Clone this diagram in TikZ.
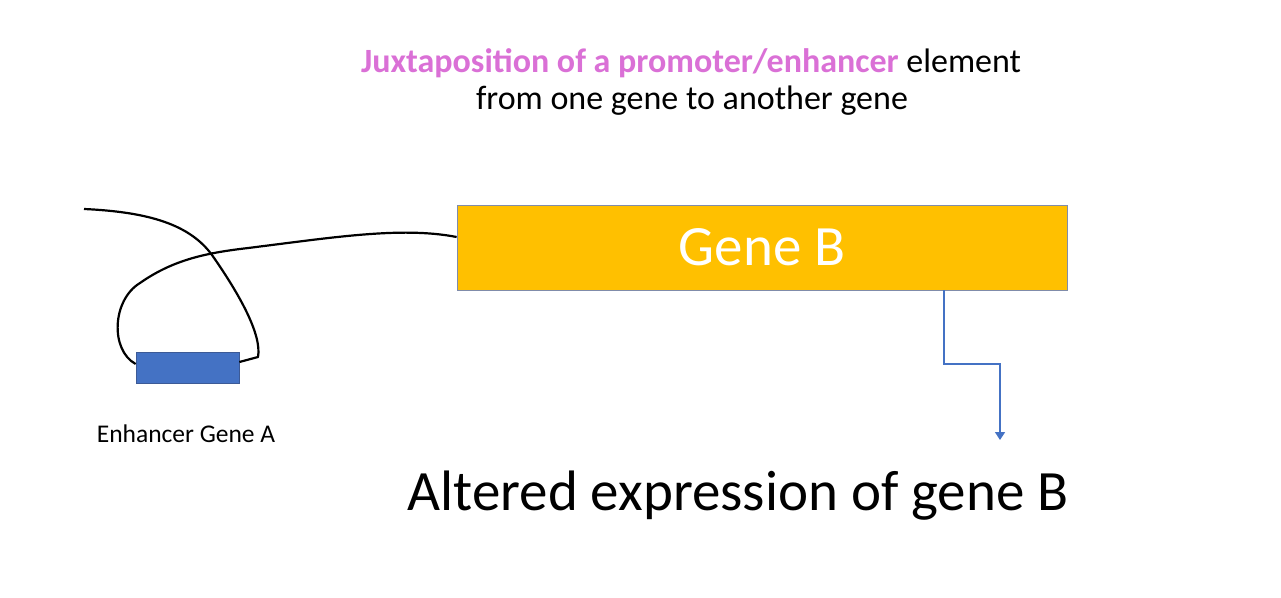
\documentclass[tikz,border=0pt]{standalone}
\usepackage{fontspec}
\setmainfont{Carlito}
\usepackage{tikz}
\usetikzlibrary{arrows.meta}
\definecolor{geneorange}{RGB}{255,192,0}
\definecolor{enhblue}{RGB}{68,114,196}
\definecolor{hlpink}{RGB}{218,112,214}
\tikzset{every picture/.style={line width=0.75pt}}
\begin{document}
\begin{tikzpicture}[x=1pt,y=1pt,yscale=-1,xscale=1]
		\useasboundingbox (0,0) rectangle (1281,597);
		
		%Shape: Rectangle [id:geneB] 
		\node (geneB) [draw={rgb,255:red,128;green,140;blue,170}, fill=geneorange, minimum width=610, minimum height=85, inner sep=0, text=white, font=\fontsize{57}{66}\selectfont] at (762,247.5) {Gene B};
		
		%Shape: Rectangle [id:enhA] 
		\node (enhA) [draw={rgb,255:red,60;green,90;blue,150}, fill=enhblue, minimum width=103, minimum height=31, inner sep=0] at (187.5,367.5) {};
		
		%Curve Lines [id:dnaright] 
		\draw [line width=2.2pt, line join=round] (84,209) .. controls (150,212) and (190,225) .. (212,255) .. controls (240,295) and (262,335) .. (258,357) -- (enhA.east |- 0,362) ;
		
		%Curve Lines [id:dnaleft] 
		\draw [line width=2.2pt, line join=round] (enhA.west |- 0,364) .. controls (110,350) and (112,300) .. (140,283) .. controls (170,262) and (200,254) .. (240,249) .. controls (330,238) and (400,226) .. (geneB.west |- 0,237) ;
		
		%Straight Lines [id:expr] 
		\coordinate (tip) at (1000,440) ;
		\draw [draw=enhblue, line width=1.6pt, -{Triangle[width=10pt,length=8pt]}] (geneB.south -| 944,0) |- (1000,364) -- (tip) ;
		
		% Text Node
		\node (title) at (691,63) {\fontsize{34}{40}\selectfont\textcolor{hlpink}{\textbf{Juxtaposition of a promoter/enhancer}} element};
		% Text Node
		\node (title2) at (692,101) {\fontsize{34}{40}\selectfont from one gene to another gene};
		% Text Node
		\node (lblA) at (186,434) {\fontsize{25.5}{30}\selectfont Enhancer Gene A};
		% Text Node
		\node (result) at (738,496) {\fontsize{57}{66}\selectfont Altered expression of gene B};
		
		\end{tikzpicture}
\end{document}
